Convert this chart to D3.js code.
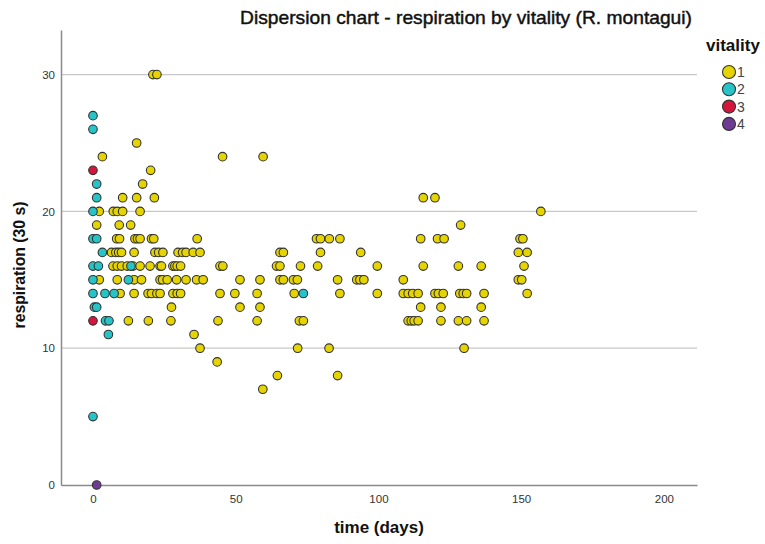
<!DOCTYPE html>
<html>
<head>
<meta charset="utf-8">
<script src="https://cdn.jsdelivr.net/npm/d3@7"></script>
<style>
  body { margin: 0; background: #fff; }
  svg text { font-family: 'Liberation Sans', Arial, sans-serif; }
</style>
</head>
<body>
<div id="chart"></div>
<script>
// [time (days), respiration (30 s)] for each vitality level
const vitality1 = [
  [21, 30], [22.4, 30],
  [15.3, 25],
  [3.3, 24], [45.4, 24], [59.6, 24],
  [20.2, 23],
  [17.4, 22],
  [10.4, 21], [15.3, 21], [21.5, 21], [115.7, 21], [119.8, 21],
  [2.2, 20], [7.1, 20], [8.5, 20], [10.4, 20], [16.5, 20], [156.9, 20],
  [1.3, 19], [9.2, 19], [13.2, 19], [128.8, 19],
  [8.3, 18], [9.3, 18], [14.7, 18], [15.6, 18], [16.5, 18], [20.5, 18], [21.3, 18], [36.5, 18],
  [78.3, 18], [79.7, 18], [82.8, 18], [86.5, 18], [114.8, 18], [120.7, 18], [123, 18], [149.6, 18], [150.6, 18],
  [6.5, 17], [8, 17], [9, 17], [10, 17], [14.4, 17], [21.7, 17], [23, 17], [24.5, 17], [29.8, 17],
  [31.4, 17], [32.6, 17], [35.1, 17], [37.5, 17], [65.5, 17], [66.7, 17], [79.7, 17], [93.8, 17], [149, 17], [152.1, 17],
  [7, 16], [8.5, 16], [10, 16], [12, 16], [14, 16], [16.5, 16], [20, 16], [23.5, 16], [24, 16], [28, 16],
  [28.7, 16], [29.5, 16], [30.7, 16], [44.5, 16], [45.5, 16], [64.3, 16], [65.5, 16], [72.7, 16], [78.7, 16],
  [99.6, 16], [115.7, 16], [128, 16], [136, 16], [151, 16],
  [2.2, 15], [8.5, 15], [14.4, 15], [17, 15], [23.5, 15], [24.4, 15], [26, 15], [29.3, 15], [32.6, 15],
  [36.3, 15], [38.6, 15], [51.5, 15], [58.5, 15], [65.5, 15], [66.7, 15], [70.2, 15], [71.6, 15], [85.7, 15],
  [92.4, 15], [93.5, 15], [94.9, 15], [108.7, 15], [149, 15], [150.2, 15],
  [9.5, 14], [14.4, 14], [19.3, 14], [20.5, 14], [22.4, 14], [23.5, 14], [28, 14], [29.5, 14], [30.7, 14],
  [44.5, 14], [49.7, 14], [57.5, 14], [70.5, 14], [86.5, 14], [99.6, 14], [108.7, 14], [110.4, 14], [112, 14],
  [113.9, 14], [119.8, 14], [121, 14], [122.7, 14], [128.5, 14], [129.7, 14], [130.9, 14], [137, 14], [152.1, 14],
  [27.5, 13], [51.5, 13], [58.5, 13], [114.8, 13], [121.9, 13], [136, 13],
  [12.4, 12], [19.4, 12], [27.3, 12], [43.8, 12], [57.5, 12], [72.3, 12], [73.7, 12], [110.4, 12], [111.5, 12],
  [112.5, 12], [113.9, 12], [121.9, 12], [128, 12], [130.9, 12], [137, 12],
  [35.4, 11],
  [37.5, 10], [71.7, 10], [82.7, 10], [130, 10],
  [43.5, 9],
  [64.6, 8], [85.7, 8],
  [59.5, 7]
];
const vitality2 = [
  [0, 27], [0, 26], [1.3, 22], [1.3, 21], [0, 20], [0, 18], [1.3, 18], [3.3, 17],
  [0, 16], [1.9, 16], [13.3, 16], [0, 15], [12.4, 15], [0, 14], [4.2, 14], [7.4, 14],
  [0.5, 13], [1.3, 13], [4.4, 12], [5.6, 12], [5.4, 11], [0, 5], [73.7, 14]
];
const vitality3 = [[0, 23], [0, 12]];
const vitality4 = [[1.3, 0]];

const levels = ['1', '2', '3', '4'];
const levelColors = ['#e5d400', '#26c4c6', '#d3163a', '#6e3a93'];
const xTicks = [0, 50, 100, 150, 200];
const yTicks = [0, 10, 20, 30];

const width = 765, height = 544;
const svg = d3.select('#chart').append('svg')
    .attr('width', width)
    .attr('height', height);

const x = d3.scaleLinear().domain([-11.2, 211.6]).range([61, 697]);
const y = d3.scaleLinear().domain([0, 33.26]).range([485, 30]);
const color = d3.scaleOrdinal().domain(levels).range(levelColors);

// gridlines
svg.append('g')
  .selectAll('line')
  .data(yTicks.filter(d => d > 0))
  .join('line')
    .attr('x1', x.range()[0])
    .attr('x2', x.range()[1])
    .attr('y1', d => y(d))
    .attr('y2', d => y(d))
    .attr('stroke', '#c8c8c8')
    .attr('stroke-width', 1.3);

// axes
const yAxis = svg.append('g')
    .attr('transform', `translate(${x.range()[0]},0)`)
    .call(d3.axisLeft(y).tickValues(yTicks).tickSize(0).tickPadding(6));
const xAxis = svg.append('g')
    .attr('transform', `translate(0,${y(0)})`)
    .call(d3.axisBottom(x).tickValues(xTicks).tickSize(0).tickPadding(10));

[xAxis, yAxis].forEach(g => {
  g.select('.domain').attr('stroke', '#8a8a8a').attr('stroke-width', 1.5);
  g.selectAll('text').attr('fill', '#333').style('font-size', '11.5px');
});

// points
const groups = [vitality1, vitality2, vitality3, vitality4];
groups.forEach((pts, i) => {
  svg.append('g')
    .selectAll('circle')
    .data(pts)
    .join('circle')
      .attr('cx', d => x(d[0]))
      .attr('cy', d => y(d[1]))
      .attr('r', 4.3)
      .attr('fill', color(levels[i]))
      .attr('stroke', '#333')
      .attr('stroke-width', 1.1);
});

// title (a bit heavier than regular, like the original)
svg.append('text')
    .attr('x', 240)
    .attr('y', 24)
    .attr('textLength', 452)
    .attr('lengthAdjust', 'spacingAndGlyphs')
    .style('font-size', '19px')
    .attr('fill', '#111')
    .attr('stroke', '#111')
    .attr('stroke-width', 0.45)
    .text('Dispersion chart - respiration by vitality (R. montagui)');

// axis labels
svg.append('text')
    .attr('x', 379)
    .attr('y', 533)
    .attr('text-anchor', 'middle')
    .style('font-size', '17px')
    .style('font-weight', 'bold')
    .attr('fill', '#111')
    .text('time (days)');

svg.append('text')
    .attr('transform', 'translate(25,265) rotate(-90)')
    .attr('text-anchor', 'middle')
    .attr('textLength', 127)
    .attr('lengthAdjust', 'spacingAndGlyphs')
    .style('font-size', '16px')
    .style('font-weight', 'bold')
    .attr('fill', '#111')
    .text('respiration (30 s)');

// legend
const legend = svg.append('g').attr('transform', 'translate(706,0)');
legend.append('text')
    .attr('x', 0)
    .attr('y', 51)
    .style('font-size', '17px')
    .style('font-weight', 'bold')
    .attr('fill', '#111')
    .text('vitality');

const item = legend.selectAll('g.item')
  .data(levels)
  .join('g')
    .attr('class', 'item')
    .attr('transform', (d, i) => `translate(0,${72 + i * 17.3})`);
item.append('circle')
    .attr('cx', 23)
    .attr('r', 6.5)
    .attr('fill', d => color(d))
    .attr('stroke', '#333')
    .attr('stroke-width', 1.1);
item.append('text')
    .attr('x', 31)
    .attr('y', 5)
    .style('font-size', '14px')
    .attr('fill', '#444')
    .text(d => d);
</script>
</body>
</html>
